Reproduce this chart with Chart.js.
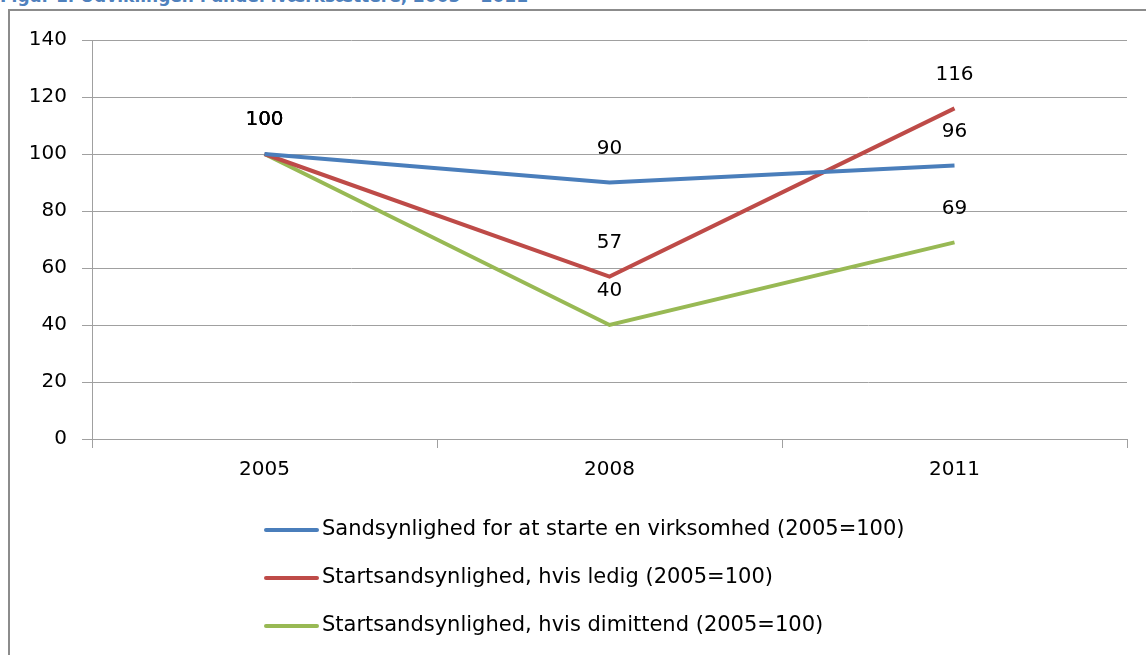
<!DOCTYPE html>
<html lang="da">
<head>
  <meta charset="UTF-8">
  <title>Figur 1</title>
  <script src="https://cdn.jsdelivr.net/npm/chart.js"></script>
  <style>
    html, body { margin: 0; padding: 0; background: #fff; overflow: hidden; }
    .title { position: absolute; left: 0; top: -14px; font-family: "DejaVu Sans", sans-serif; font-weight: bold;
             font-size: 17px; color: #4F81BD; white-space: nowrap; }
    .frame { position: absolute; left: 8px; top: 9px; width: 1150px; height: 660px;
             border-left: 2px solid #8c8c8c; border-top: 2px solid #8c8c8c; }
    .wrap { position: absolute; left: 0; top: 0; width: 1146px; height: 655px; }
  </style>
</head>
<body>
  <div class="title">Figur 1. Udviklingen i andel iværksættere, 2005 – 2011</div>
  <div class="frame"></div>
  <div class="wrap"><canvas id="chart"></canvas></div>

  <script>
    const years = ['2005', '2008', '2011'];
    const seriesNames = [
      'Sandsynlighed for at starte en virksomhed (2005=100)',
      'Startsandsynlighed, hvis ledig (2005=100)',
      'Startsandsynlighed, hvis dimittend (2005=100)'
    ];
    const overall = [100, 90, 96];
    const unemployed = [100, 57, 116];
    const graduates = [100, 40, 69];
    const colors = ['#4A7EBB', '#BE4B48', '#98B954'];

    const FONT = '"DejaVu Sans", sans-serif';

    // value labels above each point
    const pointLabels = {
      id: 'pointLabels',
      afterDatasetsDraw(chart) {
        const ctx = chart.ctx;
        ctx.save();
        ctx.font = '20px ' + FONT;
        ctx.fillStyle = '#000';
        ctx.textAlign = 'center';
        ctx.textBaseline = 'middle';
        chart.data.datasets.forEach((ds, i) => {
          chart.getDatasetMeta(i).data.forEach((pt, j) => {
            ctx.fillText(String(ds.data[j]), pt.x, pt.y - 34);
          });
        });
        ctx.restore();
      }
    };

    // vertical legend below the plot
    const stackedLegend = {
      id: 'stackedLegend',
      afterDraw(chart) {
        const ctx = chart.ctx;
        ctx.save();
        ctx.font = '21px ' + FONT;
        ctx.textBaseline = 'middle';
        ctx.lineCap = 'round';
        chart.data.datasets.forEach((ds, i) => {
          const y = 530 + i * 48;
          ctx.strokeStyle = ds.borderColor;
          ctx.lineWidth = 4;
          ctx.beginPath();
          ctx.moveTo(266, y);
          ctx.lineTo(317, y);
          ctx.stroke();
          ctx.fillStyle = '#000';
          ctx.fillText(ds.label, 322, y);
        });
        ctx.restore();
      }
    };

    new Chart(document.getElementById('chart'), {
      type: 'line',
      data: {
        labels: years,
        datasets: [overall, unemployed, graduates].map((d, i) => ({
          label: seriesNames[i],
          data: d,
          borderColor: colors[i],
          backgroundColor: colors[i],
          borderWidth: 4,
          pointRadius: 0,
          tension: 0
        }))
      },
      options: {
        responsive: true,
        maintainAspectRatio: false,
        animation: false,
        layout: { padding: { left: 10, right: 19, top: 40, bottom: 156 } },
        plugins: {
          legend: { display: false },
          tooltip: { enabled: false }
        },
        scales: {
          x: {
            offset: true,
            grid: { offset: true, drawOnChartArea: false, drawTicks: true, tickLength: 9, color: '#A0A0A0' },
            border: { color: '#A0A0A0' },
            ticks: { font: { family: FONT, size: 20 }, color: '#000', padding: 10 },
            afterFit(scale) { scale.height = 60; }
          },
          y: {
            min: 0,
            max: 140,
            ticks: { stepSize: 20, font: { family: FONT, size: 20 }, color: '#000', padding: 15 },
            grid: { color: '#A0A0A0', tickLength: 10 },
            border: { color: '#A0A0A0' },
            afterFit(scale) { scale.width = 82; }
          }
        }
      },
      plugins: [pointLabels, stackedLegend]
    });
  </script>
</body>
</html>
